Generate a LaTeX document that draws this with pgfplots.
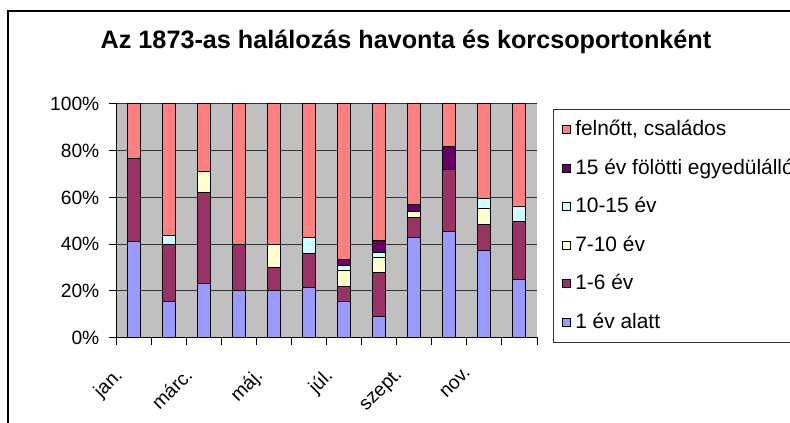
\documentclass[border=0pt]{standalone}
\usepackage{pgfplots}
\pgfplotsset{compat=1.18}
\usepackage{fontspec}
\setmainfont{Liberation Sans}
\definecolor{cBlue}{RGB}{153,153,255}
\definecolor{cPlum}{RGB}{153,51,102}
\definecolor{cYellow}{RGB}{255,255,204}
\definecolor{cCyan}{RGB}{204,255,255}
\definecolor{cPurple}{RGB}{102,0,102}
\definecolor{cSalmon}{RGB}{255,128,128}
\definecolor{cGray}{RGB}{192,192,192}
\begin{document}
\begin{tikzpicture}
\draw[line width=1.5pt, black] (8pt,-5pt) -- (8pt,412pt) -- (800pt,412pt);
\begin{axis}[
  at={(116.5pt,85.5pt)}, anchor=south west,
  width=420.5pt, height=233.5pt, scale only axis,
  ybar stacked, bar width=13pt,
  xmin=0.5, xmax=12.5, ymin=0, ymax=100,
  axis background/.style={fill=cGray},
  axis x line*=bottom, axis y line*=left,
  axis line style={black, line width=1pt, -},
  tick align=outside, major tick length=8pt,
  tick style={black, line width=1pt},
  ymajorgrids, grid style={black!80, line width=1pt},
  ytick={0,20,40,60,80,100},
  yticklabels={0\%,20\%,40\%,60\%,80\%,100\%},
  yticklabel style={font=\fontsize{19.2}{22}\selectfont, inner sep=0pt, xshift=-9pt},
  xtick={0.5,1.5,2.5,3.5,4.5,5.5,6.5,7.5,8.5,9.5,10.5,11.5,12.5},
  xticklabels={},
  extra x ticks={1,3,5,7,9,11},
  extra x tick labels={jan.,márc.,máj.,júl.,szept.,nov.},
  extra x tick style={major tick length=0pt, grid=none,
    xticklabel style={rotate=45, anchor=north east, inner sep=0pt,
      font=\fontsize{19.2}{22}\selectfont, xshift=-35pt, yshift=-6pt}},
  title={\bfseries Az 1873-as halálozás havonta és korcsoportonként},
  title style={at={(0.6885,1.211)}, anchor=base, inner sep=0pt,
    font=\fontsize{25.2}{28}\selectfont},
  legend image code/.code={\draw[#1, line width=0.8pt, draw=black] (0pt,-4pt) rectangle (8pt,4pt);},
  reverse legend,
  legend cell align=left,
  legend style={at={(1.038,0.9786)}, anchor=north west, draw=black!80, line width=1pt,
    font=\fontsize{20.9}{24}\selectfont,
    inner xsep=9pt, inner ysep=10.3pt, row sep=19pt,
    nodes={inner xsep=4pt, inner ysep=0pt, text height=16pt, text depth=3.5pt}},
  every axis plot/.append style={draw=black, line width=1pt},
]
\addplot[fill=cBlue] coordinates {(1,41) (2,15.4) (3,23.3) (4,20) (5,20) (6,21.4) (7,15.4) (8,9) (9,42.9) (10,45.6) (11,37.1) (12,24.7)};
\addplot[fill=cPlum] coordinates {(1,35.5) (2,24.5) (3,38.7) (4,20) (5,10) (6,14.5) (7,6.6) (8,18.9) (9,8.4) (10,26.5) (11,11.2) (12,24.9)};
\addplot[fill=cYellow] coordinates {(1,0) (2,0) (3,9.3) (4,0) (5,10) (6,0) (7,6.6) (8,6.5) (9,2.7) (10,0) (11,7.1) (12,0)};
\addplot[fill=cCyan] coordinates {(1,0) (2,3.8) (3,0) (4,0) (5,0) (6,7.1) (7,2.4) (8,2) (9,0) (10,0) (11,4) (12,6.5)};
\addplot[fill=cPurple] coordinates {(1,0) (2,0) (3,0) (4,0) (5,0) (6,0) (7,2.3) (8,5.3) (9,3) (10,9.5) (11,0) (12,0)};
\addplot[fill=cSalmon] coordinates {(1,23.5) (2,56.3) (3,28.7) (4,60) (5,60) (6,57) (7,66.7) (8,58.3) (9,43) (10,18.4) (11,40.6) (12,43.9)};
\legend{1 év alatt,1-6 év,7-10 év,10-15 év,15 év fölötti egyedülálló,{felnőtt, családos}}
\end{axis}
\pgfresetboundingbox
\path[use as bounding box] (0pt,0pt) rectangle (790pt,423pt);
\end{tikzpicture}
\end{document}
